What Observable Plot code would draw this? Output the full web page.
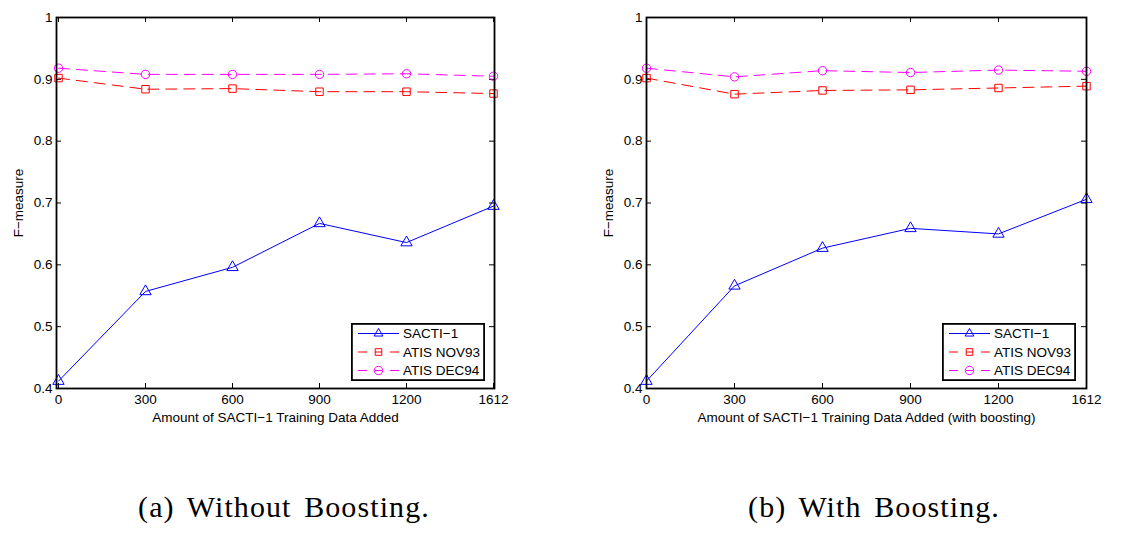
<!DOCTYPE html>
<html><head><meta charset="utf-8">
<script src="https://cdn.jsdelivr.net/npm/d3@7"></script>
<script src="https://cdn.jsdelivr.net/npm/@observablehq/plot@0.6"></script>
<style>
body{margin:0;background:#fff;}
#wrap{position:relative;width:1137px;height:548px;overflow:hidden;background:#fff;font-family:"Liberation Sans",Arial,sans-serif;}
.panel{position:absolute;top:0;}
.caption{position:absolute;font-family:"Liberation Serif","Times New Roman",serif;font-size:30px;line-height:30px;white-space:nowrap;transform:translateX(-50%);letter-spacing:1.1px;word-spacing:4px;color:#000;}
.legend{position:absolute;}
</style></head>
<body><div id="wrap"></div>
<script>
// ---- data ----
const amounts = ["0", "300", "600", "900", "1200", "1612"];
const seriesNames = ["SACTI−1", "ATIS NOV93", "ATIS DEC94"];
const seriesColors = ["#0000ff", "#ff0000", "#ff00ff"];
const seriesSymbols = ["triangle", "square", "circle"];
const seriesDash = [null, "11,7", "11,7"];
const legendDash = [null, "9,8,7,8,9", "9,8,7,8,9"];

const noBoostSacti = [0.412, 0.557, 0.596, 0.667, 0.636, 0.695];
const noBoostNov93 = [0.902, 0.884, 0.885, 0.880, 0.880, 0.877];
const noBoostDec94 = [0.918, 0.908, 0.908, 0.908, 0.909, 0.905];

const boostSacti = [0.412, 0.566, 0.627, 0.659, 0.650, 0.706];
const boostNov93 = [0.902, 0.876, 0.882, 0.883, 0.886, 0.889];
const boostDec94 = [0.918, 0.904, 0.914, 0.911, 0.915, 0.913];

const yTicks = [0.4, 0.5, 0.6, 0.7, 0.8, 0.9, 1];
const yLabel = "F−measure";
const xLabelA = "Amount of SACTI−1 Training Data Added";
const xLabelB = "Amount of SACTI−1 Training Data Added (with boosting)";
const captionA = "(a) Without Boosting.";
const captionB = "(b) With Boosting.";

// ---- helpers ----
function toRows(valueLists) {
  const rows = [];
  valueLists.forEach((vals, i) => {
    vals.forEach((v, j) => rows.push({amount: amounts[j], value: v, series: seriesNames[i]}));
  });
  return rows;
}

const R = 4.2;
const FONT = "Liberation Sans, Arial, sans-serif";

function makePanel({rows, xLabel, width, marginLeft, marginRight}) {
  const height = 432, marginTop = 17, marginBottom = 44;
  const fw = width - marginLeft - marginRight;
  const fh = height - marginTop - marginBottom;
  const tick = 5;
  return Plot.plot({
    width, height, marginLeft, marginRight, marginTop, marginBottom,
    style: {fontFamily: FONT, fontSize: "13.5px", color: "#000", background: "#fff", overflow: "visible"},
    x: {type: "point", domain: amounts, padding: 0},
    y: {domain: [0.4, 1]},
    color: {domain: seriesNames, range: seriesColors},
    symbol: {domain: seriesNames, range: seriesSymbols},
    marks: [
      Plot.axisX({tickSize: 0, tickPadding: 6, label: xLabel, labelAnchor: "center", labelOffset: 33, labelArrow: "none"}),
      Plot.axisY({ticks: yTicks, tickSize: 0, tickPadding: 4, tickFormat: d3.format("~g"), label: yLabel, labelAnchor: "center", labelOffset: 43, labelArrow: "none"}),
      Plot.tickY(yTicks, {y: d => d, insetRight: fw - tick, stroke: "#000"}),
      Plot.tickY(yTicks, {y: d => d, insetLeft: fw - tick, stroke: "#000"}),
      Plot.tickX(amounts, {x: d => d, insetTop: fh - tick, stroke: "#000"}),
      Plot.tickX(amounts, {x: d => d, insetBottom: fh - tick, stroke: "#000"}),
      ...seriesNames.map((s, i) => Plot.line(rows.filter(r => r.series === s), {
        x: "amount", y: "value", stroke: seriesColors[i], strokeWidth: 1,
        strokeDasharray: seriesDash[i] || undefined
      })),
      Plot.dot(rows, {x: "amount", y: "value", stroke: "series", symbol: "series", r: R, fill: "none", strokeWidth: 1}),
      Plot.frame({stroke: "#000", strokeWidth: 1.8})
    ]
  });
}

function makeLegend(left, top) {
  const w = 134, h = 58;
  const svg = d3.create("svg").attr("width", w).attr("height", h).attr("class", "legend")
    .style("left", left + "px").style("top", top + "px");
  svg.append("rect").attr("x", 0.9).attr("y", 0.9).attr("width", w - 1.8).attr("height", h - 1.8)
    .attr("fill", "#fff").attr("stroke", "#000").attr("stroke-width", 1.8);
  const symMap = {triangle: d3.symbolTriangle2, square: d3.symbolSquare2, circle: d3.symbolCircle};
  seriesNames.forEach((s, i) => {
    const y = 10.5 + i * 18.5;
    svg.append("line").attr("x1", 7).attr("x2", 48).attr("y1", y).attr("y2", y)
      .attr("stroke", seriesColors[i]).attr("stroke-width", 1)
      .attr("stroke-dasharray", legendDash[i]);
    svg.append("path").attr("transform", `translate(27.5,${y})`)
      .attr("d", d3.symbol(symMap[seriesSymbols[i]], R * R * Math.PI)())
      .attr("fill", "none").attr("stroke", seriesColors[i]).attr("stroke-width", 1);
    svg.append("text").attr("x", 52).attr("y", y).attr("dy", "0.35em")
      .attr("font-family", FONT).attr("font-size", 13.5).text(s);
  });
  return svg.node();
}

const wrap = document.getElementById("wrap");

const pa = makePanel({rows: toRows([noBoostSacti, noBoostNov93, noBoostDec94]), xLabel: xLabelA, width: 560, marginLeft: 56, marginRight: 66});
pa.classList.add("panel"); pa.style.left = "0px";
wrap.appendChild(pa);

const pb = makePanel({rows: toRows([boostSacti, boostNov93, boostDec94]), xLabel: xLabelB, width: 557, marginLeft: 66, marginRight: 51});
pb.classList.add("panel"); pb.style.left = "580px";
wrap.appendChild(pb);

wrap.appendChild(makeLegend(351, 323));
wrap.appendChild(makeLegend(942, 323));

function addCaption(text, cx, top) {
  const d = document.createElement("div");
  d.className = "caption";
  d.textContent = text;
  d.style.left = cx + "px";
  d.style.top = top + "px";
  wrap.appendChild(d);
}
addCaption(captionA, 284, 492);
addCaption(captionB, 874, 492);
</script>
</body></html>
